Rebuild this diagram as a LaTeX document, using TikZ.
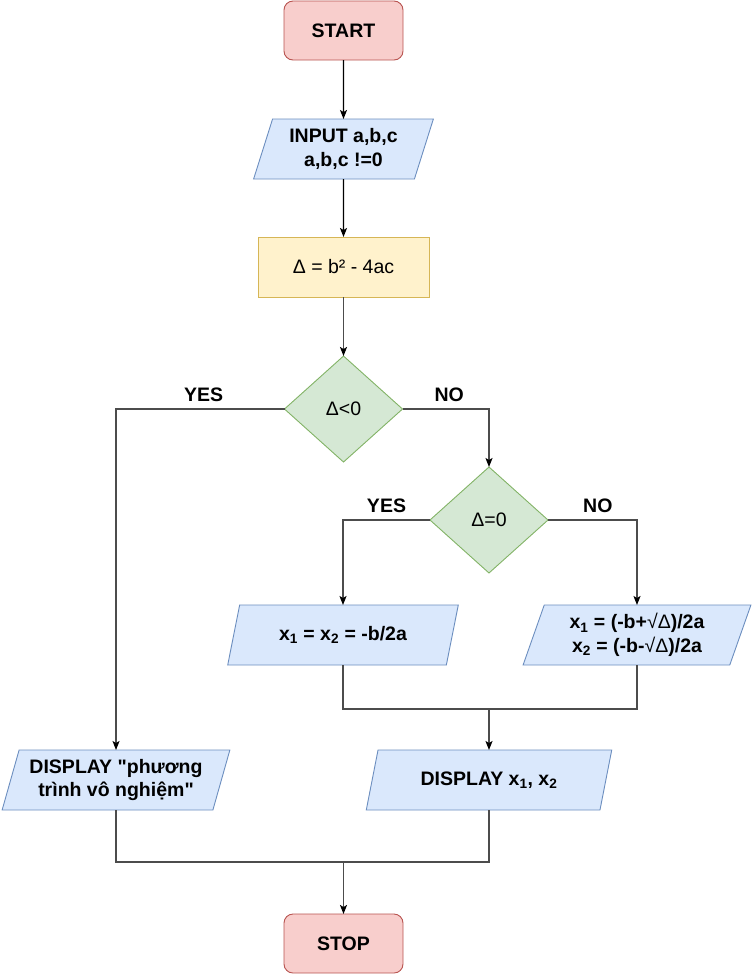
\documentclass[tikz,border=0pt]{standalone}
\usepackage{fontspec}
\setmainfont{Liberation Sans}[Ligatures=TeXOff]
\usepackage{tikz}
\usetikzlibrary{shapes.geometric, arrows.meta, positioning}

\definecolor{termfill}{HTML}{F8CECC}
\definecolor{termdraw}{HTML}{B85450}
\definecolor{iofill}{HTML}{DAE8FC}
\definecolor{iodraw}{HTML}{6C8EBF}
\definecolor{procfill}{HTML}{FFF2CC}
\definecolor{procdraw}{HTML}{D6B656}
\definecolor{decfill}{HTML}{D5E8D4}
\definecolor{decdraw}{HTML}{82B366}

\begin{document}
\begin{tikzpicture}[
    x=1pt, y=-1pt,
    every node/.style={font=\fontsize{19.5}{23.5}\selectfont, outer sep=0pt},
    term/.style={rectangle, rounded corners=9pt, draw=termdraw, fill=termfill, line width=0.9pt, minimum width=119pt, minimum height=59pt, font=\fontsize{19.5}{23.5}\selectfont\bfseries},
    io/.style={trapezium, trapezium left angle=72, trapezium right angle=108, trapezium stretches=true, draw=iodraw, fill=iofill, line width=0.9pt, minimum height=60pt, align=center, font=\fontsize{19.5}{23.5}\selectfont\bfseries},
    process/.style={rectangle, draw=procdraw, fill=procfill, line width=0.9pt, minimum width=171pt, minimum height=60pt},
    decision/.style={diamond, draw=decdraw, fill=decfill, line width=0.9pt, minimum width=118pt, minimum height=106pt, inner sep=0pt},
    label/.style={font=\fontsize{19.5}{23.5}\selectfont\bfseries, above=4pt},
    line/.style={draw=black!70, line width=1.2pt},
    arrow/.style={line, -{Stealth[length=9pt, width=7pt, inset=2pt, black]}}
]
    \useasboundingbox (0,0) rectangle (752,975);

    \node[term] (start) at (343.5,30.5) {START};
    \node[io, minimum width=180pt, below=59pt of start] (input) {INPUT a,b,c\\a,b,c !=0};
    \node[process, below=58pt of input] (delta) {Δ = b² - 4ac};
    \node[decision, below=59pt of delta] (neg) {Δ<0};
    \node[decision] (zero) at (489,520) {Δ=0};
    \node[io, minimum width=231pt] (dbl) at (343,635) {x\textsubscript{1} = x\textsubscript{2} = -b/2a};
    \node[io, minimum width=228pt] (two) at (637,635) {x\textsubscript{1} = (-b+\textmd{√Δ})/2a\\x\textsubscript{2} = (-b-\textmd{√Δ})/2a};
    \node[io, minimum width=246pt] (out) at (489,780) {DISPLAY x\textsubscript{1}, x\textsubscript{2}};
    \node[io, minimum width=228pt] (none) at (116,780) {DISPLAY "phương\\trình vô nghiệm"};
    \node[term] (stop) at (343.5,943.5) {STOP};
    \coordinate (join) at (489,709);
    \coordinate (merge) at (343.5,862);

    \draw[arrow, draw=black] (start) -- (input);
    \draw[arrow, draw=black] (input) -- (delta);
    \draw[arrow] (delta) -- (neg);
    \draw[arrow] (neg.west) -| node[label, pos=0.24] {YES} (none);
    \draw[arrow] (neg.east) -| node[label, pos=0.27] {NO} (zero);
    \draw[arrow] (zero.west) -| node[label, pos=0.25] {YES} (dbl);
    \draw[arrow] (zero.east) -| node[label, pos=0.28] {NO} (two);
    \draw[line] (dbl) |- (join) -| (two);
    \draw[arrow] (join) -- (out);
    \draw[line] (none) |- (merge) -| (out);
    \draw[arrow] (merge) -- (stop);
\end{tikzpicture}
\end{document}
